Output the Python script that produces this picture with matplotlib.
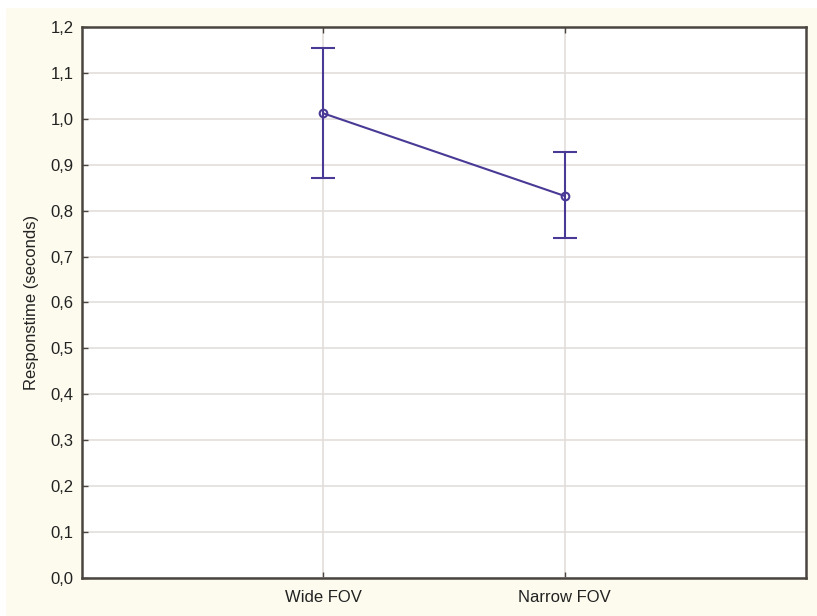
import matplotlib
matplotlib.use("Agg")
import matplotlib.pyplot as plt
from matplotlib.patches import Rectangle
from matplotlib.ticker import MultipleLocator, FuncFormatter

categories = ["Wide FOV", "Narrow FOV"]
means = [1.012, 0.832]
upper = [1.154, 0.928]
lower = [0.871, 0.740]

plt.rcParams['font.family'] = ['Liberation Sans', 'DejaVu Sans']

W, H = 817, 616
fig = plt.figure(figsize=(W/100, H/100), dpi=100, facecolor="#fdfbee")
# white strips at top and left edge
fig.patches.append(Rectangle((0, 1 - 7/H), 1, 7/H, transform=fig.transFigure, color="white", zorder=0))
fig.patches.append(Rectangle((0, 0), 5/W, 1, transform=fig.transFigure, color="white", zorder=0))

ax = fig.add_axes([82/W, 1 - 578/H, (806-82)/W, (578-27)/H])
ax.set_facecolor("white")

x = list(range(1, len(categories) + 1))
color = "#4a3a96"
yerr = [[m - l for m, l in zip(means, lower)], [u - m for u, m in zip(upper, means)]]
ax.errorbar(x, means, yerr=yerr, color=color, lw=1.5, capsize=8.5, capthick=1.5,
            marker='o', markersize=5.5, markerfacecolor='none', markeredgewidth=1.5, zorder=3)

ax.set_xlim(0, 3)
ax.set_ylim(0, 1.2)
ax.set_xticks(x)
ax.set_xticklabels(categories)
ax.yaxis.set_major_locator(MultipleLocator(0.1))
ax.yaxis.set_major_formatter(FuncFormatter(lambda v, p: f"{v:.1f}".replace('.', ',')))
ax.grid(True, color="#e2dedb", lw=1.2, zorder=0)
ax.set_axisbelow(True)

for s in ax.spines.values():
    s.set_color("#4a4540")
    s.set_linewidth(1.8)
ax.tick_params(direction='in', length=4, width=1, color="#4a4540", labelsize=12,
               labelcolor="#222222", top=True, right=False, pad=6)
ax.tick_params(axis='x', pad=9)
ax.set_ylabel("Responstime (seconds)", fontsize=12, color="#222222", labelpad=8)

fig.savefig("out.png", dpi=100, facecolor=fig.get_facecolor())
